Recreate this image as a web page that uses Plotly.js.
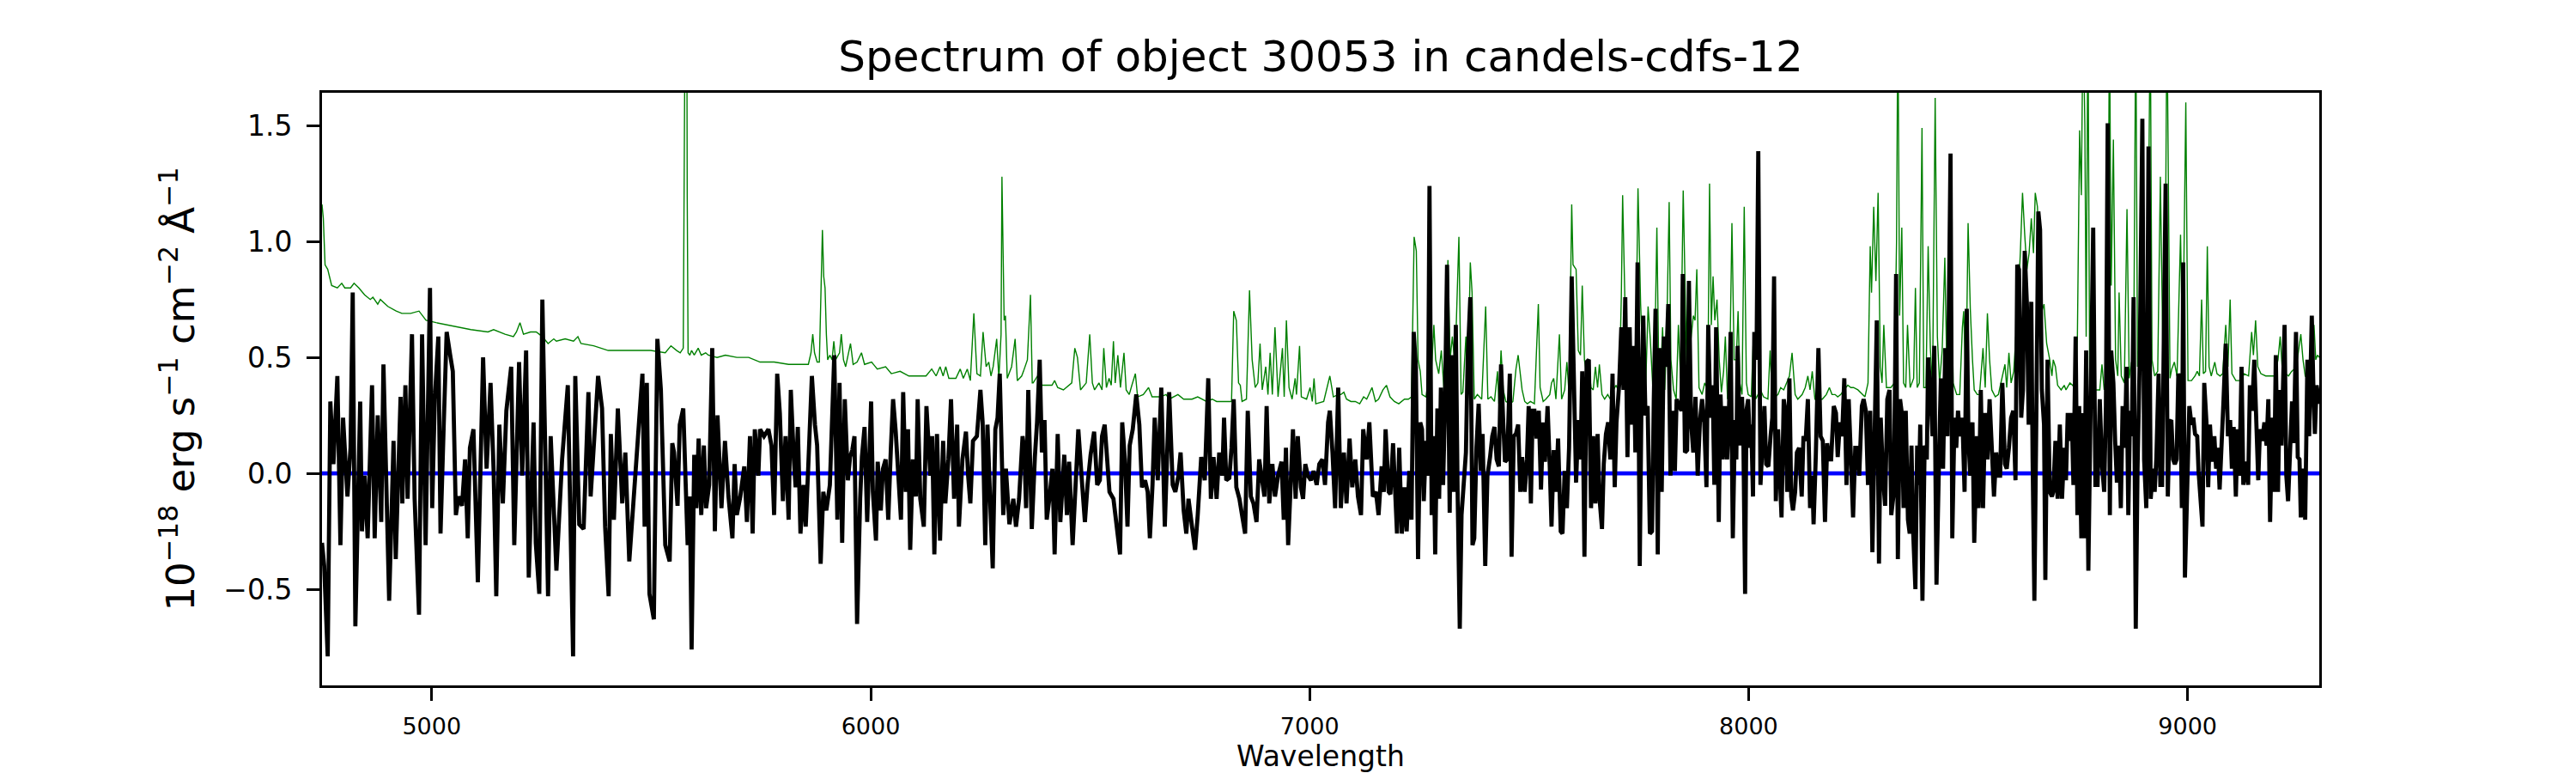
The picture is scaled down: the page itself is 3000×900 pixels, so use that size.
<!DOCTYPE html>
<html>
<head>
<meta charset="utf-8">
<script src="https://cdn.plot.ly/plotly-3.0.1.min.js"></script>
<style>
  html, body { margin: 0; padding: 0; background: #ffffff; }
  #spectrum { width: 3000px; height: 900px; }
</style>
</head>
<body>
<div id="spectrum"></div>
<script>
// Values: [wavelength (A), flux (1e-18 erg/s/cm2/A)]
const objectId = "30053";
const fieldName = "candels-cdfs-12";
const zeroLevel = 0;
const yTickVals = [-0.5, 0.0, 0.5, 1.0, 1.5];
const xTickVals = [5000, 6000, 7000, 8000, 9000];

// science spectrum (black)
const scienceBlue = [
  [4750,-0.30],[4755,-0.40],[4763,-0.79],[4769,0.31],[4776,0.04],[4785,0.42],[4792,-0.31],[4798,0.24],[4808,-0.10],[4815,0.11],
  [4820,0.78],[4826,-0.66],[4837,0.31],[4841,-0.25],[4847,-0.01],[4854,-0.28],[4864,0.38],[4870,-0.28],[4877,0.25],[4885,-0.21],
  [4890,0.47],[4896,-0.05],[4903,-0.55],[4913,0.14],[4918,-0.37],[4929,0.33],[4933,-0.13],[4940,0.38],[4945,-0.11],[4955,0.60],
  [4961,-0.11],[4971,-0.61],[4978,0.60],[4986,-0.31],[4996,0.80],[5001,-0.15],[5007,0.32],[5015,0.59],[5020,-0.26],[5027,0.19],
  [5034,0.61],[5042,0.51],[5048,0.44],[5055,-0.18],[5061,-0.10],[5069,-0.14],[5076,0.06],[5082,-0.28],[5087,0.11],[5095,0.19],
  [5105,-0.47],[5117,0.50],[5125,0.02],[5134,0.39],[5141,0.01],[5147,-0.53],[5154,0.21],[5162,-0.13],[5170,0.27],[5181,0.46],
  [5188,-0.31],[5199,0.48],[5206,-0.01],[5215,0.53],[5221,-0.45],[5232,0.22],[5237,-0.30],[5245,-0.52],[5252,0.75],[5265,-0.53],
  [5271,0.16],[5284,-0.42],[5297,0.06],[5310,0.38],[5322,-0.79],[5327,0.42],[5336,-0.22],[5346,-0.24],[5357,0.35],[5362,-0.10],
  [5379,0.42],[5388,0.28],[5395,-0.23],[5403,-0.53],[5408,0.17],[5415,-0.20],[5424,0.28],[5434,-0.13],[5441,0.09],[5450,-0.38],
  [5460,-0.12],[5470,0.11],[5480,0.43],[5485,-0.23],[5490,0.39],[5496,-0.52],[5506,-0.63],[5514,0.58],[5522,0.36],[5532,-0.31],
  [5542,-0.38],[5548,0.13]
];
const scienceVisible = [
  [5552,0.09],[5560,-0.14],[5565,0.21],[5573,0.28],[5578,-0.01],[5583,-0.31],[5588,-0.10],[5592,-0.76],[5598,0.08],[5603,-0.15],
  [5608,0.15],[5614,-0.18],[5620,0.12],[5625,-0.15],[5632,-0.05],[5639,0.54],[5645,-0.25],[5651,0.25],[5660,-0.15],[5668,0.14],
  [5676,-0.10],[5685,-0.28],[5690,0.04],[5695,-0.18],[5703,-0.10],[5712,0.03],[5718,-0.21],[5725,0.16],[5731,-0.26],[5736,0.19],
  [5744,-0.01],[5748,0.19],[5757,0.16],[5767,0.19],[5774,0.12],[5780,-0.18],[5787,0.43],[5793,0.26],[5800,-0.12],[5806,0.16],
  [5813,-0.20],[5818,0.36],[5825,0.06],[5829,-0.06],[5834,0.20],[5840,-0.26],[5847,-0.05],[5852,-0.23],[5858,0.04],[5866,0.42],
  [5873,0.21],[5878,0.12],[5886,-0.39],[5892,-0.08],[5899,-0.16],[5907,-0.05],[5917,0.51],[5924,-0.20],[5929,0.39],[5935,-0.30],
  [5941,0.32],[5948,-0.03],[5953,0.07],[5958,0.10],[5963,0.16],[5969,-0.65],[5976,-0.11],[5980,0.07],[5986,0.20],[5992,-0.21],
  [6001,0.31],[6005,-0.08],[6012,-0.29],[6016,0.05],[6023,-0.16],[6028,0.02],[6034,0.06],[6040,-0.20],[6046,0.11],[6051,0.32],
  [6057,0.18],[6064,-0.06],[6069,-0.20],[6074,0.35],[6080,-0.08],[6085,0.19],[6090,-0.33],[6096,0.06],[6103,-0.10],[6107,0.32],
  [6113,-0.11],[6121,-0.23],[6127,0.29],[6136,-0.01],[6140,0.16],[6145,-0.35],[6151,0.17],[6158,-0.29],[6165,0.14],[6170,-0.13],
  [6177,0.06],[6183,0.32],[6190,-0.11],[6197,0.21],[6201,-0.23],[6209,0.06],[6217,0.18],[6222,-0.01],[6227,-0.13],[6233,0.14],
  [6242,0.16],[6250,0.36],[6255,0.22],[6261,-0.31],[6266,0.21],[6272,-0.11],[6278,-0.41],[6284,0.19],[6289,0.24],[6294,0.43],
  [6302,-0.18],[6308,0.02],[6316,-0.22],[6325,-0.11],[6331,-0.23],[6338,-0.11],[6346,0.16],[6350,0.10],
  [6354,-0.15],[6359,0.36],[6367,-0.24],[6374,0.07],[6379,0.22],[6385,0.49],[6390,0.09],[6396,0.23],[6401,-0.20],[6407,-0.11],
  [6414,0.02],[6419,-0.35],[6426,0.17],[6432,-0.21],[6441,0.08],[6447,-0.18],[6452,0.05],[6460,-0.31],[6466,-0.06],[6473,0.19],
  [6481,-0.03],[6488,-0.21],[6494,-0.05],[6501,0.08],[6509,0.18],[6516,-0.05],[6522,-0.03],[6527,0.16],[6533,0.21],[6538,0.10],
  [6544,-0.08],[6553,-0.11],[6561,-0.23],[6568,-0.35],[6573,0.22],[6579,0.06],[6585,-0.23],[6590,0.12],[6597,0.19],[6605,0.34],
  [6612,0.21],[6618,-0.06],[6625,-0.03],[6631,-0.08],[6636,-0.28],[6642,-0.05],[6647,0.24],[6654,-0.03],[6662,0.37],[6670,-0.23],
  [6680,0.35],[6688,-0.05],[6694,-0.08],[6701,-0.01],[6706,0.09],[6713,-0.16],[6719,-0.26],[6724,-0.11],[6732,-0.23],[6739,-0.33],
  [6745,-0.18],[6753,0.07],[6761,-0.03],[6769,0.41],[6775,-0.11],[6781,0.07],[6788,-0.11],[6794,0.09],[6801,-0.01],[6805,0.24],
  [6810,-0.03],[6817,-0.02],[6822,0.11],[6827,0.32],[6833,-0.06],[6840,-0.11],[6846,-0.18],[6853,-0.26],[6859,0.27],[6866,-0.10],
  [6872,-0.13],[6879,-0.21],[6885,0.06],[6892,-0.05],[6897,-0.10],[6902,0.29],[6908,-0.13],[6915,0.04],[6921,-0.10],[6928,-0.01],
  [6936,0.05],[6941,-0.20],[6946,0.11],[6951,-0.31],[6957,-0.08],[6962,0.19],[6968,-0.11],[6973,0.16],[6980,-0.06],[6985,-0.11],
  [6990,0.04],[6996,-0.01],[7003,-0.03],[7009,0.01],[7016,-0.05],[7022,0.04],[7029,0.06],[7035,-0.05],[7042,0.22],[7046,0.27],
  [7052,0.09],[7058,-0.15],[7065,0.37],[7071,-0.15],[7078,0.09],[7084,-0.13],[7091,0.15],[7097,-0.06],[7104,0.06],[7110,-0.10],
  [7117,-0.18],[7122,0.19],[7130,0.06],[7136,0.22],[7144,-0.10],[7151,-0.08]
];
const scienceRed = [
  [7157,-0.18],[7164,0.03],[7169,-0.08],[7173,0.19],[7180,-0.08],[7184,-0.09],[7190,0.13],[7195,-0.16],[7199,-0.26],[7204,0.11],
  [7210,-0.26],[7216,-0.06],[7221,-0.25],[7227,0.01],[7232,-0.20],[7237,0.61],[7242,0.46],[7247,-0.37],[7252,0.22],[7256,0.19],
  [7260,-0.12],[7265,0.14],[7269,-0.01],[7273,1.24],[7278,-0.18],[7282,0.16],[7286,-0.35],[7291,0.28],[7295,-0.11],[7299,0.37],
  [7304,-0.05],[7308,0.27],[7313,0.90],[7319,-0.17],[7323,0.51],[7328,-0.08],[7333,0.64],[7337,-0.07],[7342,-0.67],[7346,-0.18],
  [7351,-0.05],[7356,0.09],[7360,0.49],[7366,0.76],[7371,-0.31],[7375,-0.28],[7380,0.11],[7385,0.30],[7390,0.01],[7394,0.17],
  [7400,-0.40],[7405,-0.01],[7411,0.07],[7416,0.16],[7421,0.20],[7426,0.06],[7431,0.03],[7436,0.47],[7441,0.22],[7445,0.05],
  [7450,0.06],[7456,0.43],[7460,-0.36],[7465,0.16],[7470,0.17],[7475,0.21],[7480,-0.08],[7484,0.07],[7490,-0.08],[7495,0.06],
  [7499,0.29],[7504,-0.13],[7508,0.27],[7512,0.27],[7517,0.15],[7522,0.27],[7527,-0.07],[7532,0.22],[7536,0.05],[7542,0.29],
  [7547,0.03],[7551,-0.23],[7556,0.10],[7561,-0.08],[7566,0.15],[7572,-0.25],[7576,-0.26],[7581,0.01],[7586,-0.15],[7591,0.11],
  [7597,0.85],[7602,0.27],[7607,-0.04],[7612,0.23],[7617,0.06],[7621,0.44],[7626,-0.36],[7631,0.48],[7636,0.49],[7641,-0.15],
  [7646,0.16],[7651,-0.13],[7656,0.17],[7660,-0.10],[7666,-0.24],[7670,0.04],[7675,0.17],[7680,0.22],[7685,0.06],[7690,0.43],
  [7695,-0.06],[7699,0.22],[7705,0.38],[7710,0.63],[7715,0.36],[7719,0.76],[7724,0.07],[7729,0.63],[7733,0.21],[7738,0.55],
  [7742,0.09],[7747,0.91],[7752,-0.40],[7756,0.32],[7760,0.68],[7765,0.25],[7770,0.29],[7775,-0.26],[7780,-0.25],[7784,0.32],
  [7788,0.71],[7793,-0.35],[7797,0.54],[7802,-0.08],[7807,0.59],[7812,0.46],[7817,0.73],[7822,-0.01],[7827,0.27],[7832,0.01],
  [7836,0.32],[7842,0.29],[7847,0.27],[7850,0.86],[7855,0.09],[7860,0.10],[7864,0.83],[7869,0.22],[7874,0.09],[7879,0.33],
  [7884,-0.01],[7889,0.22],[7894,0.32],[7899,0.22],[7904,-0.06],[7908,0.64],[7913,0.24],[7918,0.38],[7922,-0.05],[7926,0.63],
  [7932,-0.21],[7936,0.34],[7941,0.06],[7946,0.29],[7951,0.06],[7955,0.24],
  [7959,0.61],[7964,-0.28],[7969,0.23],[7972,0.06],[7975,0.55],[7980,0.12],[7985,0.33],[7988,0.16],[7992,-0.52],[7995,0.27],
  [7999,0.32],[8003,0.11],[8006,0.21],[8010,-0.10],[8013,0.61],[8018,0.49],[8022,1.39],[8027,-0.05],[8031,0.15],[8036,0.29],
  [8040,0.04],[8045,0.03],[8050,0.16],[8054,0.24],[8058,0.85],[8062,-0.12],[8067,0.19],[8071,-0.05],[8075,-0.19],[8080,0.32],
  [8084,0.27],[8088,-0.08],[8093,0.41],[8097,-0.10],[8101,-0.16],[8106,-0.08],[8110,0.09],[8115,0.11],[8121,-0.10],[8125,0.16],
  [8130,0.14],[8135,0.32],[8140,-0.15],[8145,-0.01],[8148,-0.22],[8153,0.07],[8159,0.54],[8164,0.16],[8169,0.14],[8174,-0.21],
  [8179,0.13],[8184,0.06],[8188,0.06],[8194,0.29],[8199,0.26],[8203,0.07],[8208,0.22],[8213,0.16],[8218,0.41],[8223,-0.05],
  [8228,0.32],[8233,0.07],[8238,-0.19],[8243,0.11],[8247,0.11],[8252,-0.01],[8258,0.29],[8262,0.32],[8267,0.27],[8272,-0.05],
  [8277,0.27],[8282,-0.34],[8286,-0.01],[8292,0.66],[8297,-0.39],[8301,0.24],[8306,-0.01],[8311,-0.14],[8316,0.32],[8321,0.36],
  [8325,-0.18],[8331,-0.08],[8336,0.86],[8340,-0.37],[8345,0.32],[8349,0.26],[8353,-0.15],[8358,0.27],[8363,-0.20],[8367,-0.26],
  [8371,0.12],[8375,-0.26],[8380,-0.50],[8384,0.12],[8388,-0.05],[8391,0.21],[8396,-0.55],[8401,0.12],[8406,0.06],[8409,0.50],
  [8414,0.36],[8419,0.16],[8423,0.55],[8428,-0.48],[8434,0.08],[8438,0.41],[8443,0.02],[8448,0.54],[8453,0.16],[8456,0.64],
  [8460,1.38],[8464,-0.28],[8469,0.24],[8473,0.11],[8477,0.27],[8482,0.16],[8487,0.24],[8492,-0.08],[8497,0.71],[8501,0.14],
  [8505,-0.01],[8510,0.22],[8514,-0.30],[8520,0.16],[8524,-0.15],[8529,0.36],[8534,-0.15],[8539,0.26],[8544,0.06],[8549,0.32],
  [8554,0.06],[8559,-0.10],[8564,0.09],[8569,-0.01],[8573,-0.01],[8578,0.39],[8584,0.04],[8588,0.02],[8593,0.11],[8598,0.24],
  [8603,0.27],[8608,-0.03],[8612,0.90],[8616,0.88],[8621,0.24],[8625,0.36],[8629,0.96],[8634,0.73],[8638,0.21],[8644,0.74],
  [8647,0.06],[8651,-0.55],[8655,0.16],[8660,1.13],[8664,1.05],[8668,0.36],[8673,0.21],[8676,-0.46],[8681,0.49],[8686,-0.08],
  [8691,-0.10],[8694,-0.08],[8699,0.14],[8704,-0.11],[8709,0.21],[8714,-0.11],[8719,0.11],[8723,-0.03],[8727,0.26],[8732,0.14],
  [8736,0.26],[8740,-0.05],[8745,0.59],[8749,-0.18],[8753,0.29],[8758,-0.28],
  [8761,0.26],[8764,-0.28],[8769,0.53],[8774,-0.42],[8779,0.27],[8785,1.06],[8790,-0.05],[8795,-0.05],[8800,0.32],[8805,0.04],
  [8810,-0.08],[8814,0.29],[8818,1.51],[8823,-0.18],[8826,0.53],[8831,0.39],[8835,0.14],[8839,-0.04],[8844,0.12],[8848,-0.15],
  [8852,0.29],[8857,0.11],[8861,0.46],[8865,-0.18],[8869,0.27],[8873,0.16],[8877,0.76],[8882,-0.67],[8886,0.02],[8891,0.49],
  [8897,1.53],[8901,0.06],[8906,-0.15],[8911,1.41],[8916,-0.11],[8921,0.02],[8925,-0.08],[8929,0.07],[8934,0.43],[8938,-0.05],
  [8942,-0.05],[8946,0.64],[8950,1.25],[8955,-0.10],[8959,0.22],[8963,0.23],[8967,0.06],[8971,0.04],[8975,0.06],[8979,0.43],
  [8983,0.39],[8987,-0.15],[8990,0.91],[8994,-0.45],[8999,-0.01],[9004,0.29],[9009,0.21],[9013,0.24],[9017,0.17],[9022,0.16],
  [9025,0.01],[9030,-0.10],[9034,-0.23],[9038,0.39],[9043,0.22],[9047,-0.06],[9051,0.21],[9056,0.05],[9061,0.16],[9065,0.02],
  [9069,0.11],[9073,-0.07],[9077,0.16],[9082,0.32],[9087,0.56],[9092,0.16],[9097,0.23],[9101,0.02],[9105,0.20],[9110,-0.10],
  [9114,0.19],[9118,-0.01],[9123,0.46],[9127,-0.05],[9133,0.05],[9138,-0.05],[9142,0.38],[9147,0.27],[9152,0.49],[9157,0.22],
  [9161,-0.03],[9165,0.19],[9170,0.14],[9175,0.22],[9180,0.12],[9184,0.32],[9188,-0.21],[9193,0.24],[9197,-0.08],[9201,0.51],
  [9206,-0.08],[9210,0.36],[9214,0.12],[9221,0.64],[9225,-0.01],[9229,-0.12],[9234,0.13],[9238,0.31],[9242,0.13],[9247,0.61],
  [9251,0.07],[9255,0.06],[9258,-0.19],[9263,0.02],[9268,-0.20],[9273,0.49],[9277,0.16],[9283,0.68],[9287,0.34],[9290,0.17],
  [9294,0.38],[9300,0.30]
];

// noise / sky spectrum (green); 2.0 and 3.0 mark lines that leave the top of the plot
const noiseBlue = [
  [4750,1.16],[4753,1.10],[4757,0.90],[4763,0.88],[4772,0.81],[4785,0.80],[4795,0.82],[4802,0.80],[4815,0.80],[4823,0.82],
  [4834,0.80],[4847,0.77],[4860,0.75],[4866,0.76],[4877,0.73],[4883,0.75],[4900,0.72],[4919,0.70],[4932,0.69],[4952,0.69],
  [4971,0.70],[4987,0.66],[5010,0.65],[5036,0.64],[5062,0.63],[5089,0.62],[5128,0.61],[5141,0.62],[5167,0.60],[5186,0.59],
  [5193,0.61],[5201,0.65],[5209,0.60],[5225,0.61],[5238,0.61],[5252,0.59],[5265,0.56],[5278,0.58],[5284,0.57],[5304,0.58],
  [5323,0.57],[5333,0.59],[5340,0.56],[5369,0.55],[5402,0.53],[5434,0.53],[5467,0.53],[5499,0.53],[5532,0.52],[5545,0.55],
  [5558,0.53],[5566,0.52],[5573,0.54],[5576,1.6],[5577,3.0],[5580,3.0],[5582,1.2],[5584,0.52],[5588,0.51],[5592,0.53],
  [5598,0.51],[5607,0.54],[5614,0.51],[5624,0.52],[5630,0.51],[5650,0.50],[5669,0.51],[5695,0.50],[5722,0.50],[5748,0.48],
  [5780,0.48],[5813,0.47],[5839,0.47],[5858,0.47],[5864,0.52],[5868,0.60],[5872,0.52],[5878,0.48],[5883,0.48],[5888,0.86],
  [5890,1.05],[5893,0.85],[5896,0.80],[5899,0.60],[5902,0.49],[5907,0.51],[5912,0.49],[5916,0.57],[5920,0.49],[5929,0.52],
  [5933,0.60],[5938,0.49],[5943,0.46],[5954,0.56],[5960,0.47],[5969,0.48],[5979,0.52],[5986,0.47],[6002,0.48],[6015,0.45],
  [6034,0.46],[6047,0.43],[6067,0.44],[6087,0.42],[6106,0.42],[6126,0.42],[6139,0.45],[6149,0.42],[6158,0.46],[6165,0.42],
  [6171,0.46],[6178,0.41],[6194,0.41],[6204,0.45],[6211,0.41],[6220,0.45],[6227,0.40],[6235,0.69],[6242,0.43],[6250,0.42],
  [6256,0.61],[6263,0.46],[6269,0.48],[6274,0.42],[6279,0.46],[6287,0.58],[6292,0.41],[6297,0.60],[6299,1.28],[6302,0.90],
  [6304,0.66],[6307,0.68],[6311,0.41],[6321,0.46],[6329,0.58],[6334,0.40],[6344,0.42],[6348,0.44],[6357,0.49],[6364,0.77],
  [6368,0.39]
];
const noiseVisible = [
  [6370,0.39],[6380,0.42],[6390,0.38],[6400,0.38],[6413,0.38],[6419,0.40],[6426,0.37],[6439,0.36],[6452,0.38],[6458,0.39],
  [6465,0.54],[6471,0.50],[6478,0.36],[6491,0.39],[6499,0.60],[6505,0.39],[6510,0.36],[6520,0.39],[6527,0.36],[6531,0.54],
  [6537,0.37],[6543,0.41],[6548,0.38],[6553,0.57],[6557,0.39],[6563,0.51],[6569,0.37],[6577,0.52],[6582,0.36],[6589,0.34],
  [6595,0.38],[6603,0.43],[6608,0.33],[6621,0.34],[6633,0.37],[6641,0.33],[6660,0.33],[6673,0.34],[6680,0.32],[6700,0.34],
  [6713,0.32],[6732,0.32],[6745,0.33],[6765,0.31],[6778,0.32],[6788,0.31],[6810,0.31],[6822,0.31],[6827,0.70],[6833,0.66],
  [6838,0.39],[6842,0.38],[6846,0.31],[6856,0.32],[6863,0.79],[6869,0.49],[6876,0.37],[6882,0.39],[6887,0.56],[6892,0.36],
  [6900,0.46],[6905,0.34],[6910,0.52],[6915,0.34],[6921,0.63],[6928,0.33],[6938,0.54],[6942,0.33],[6947,0.66],[6953,0.37],
  [6960,0.32],[6967,0.41],[6970,0.34],[6977,0.55],[6981,0.33],[6993,0.32],[7001,0.37],[7006,0.31],[7010,0.41],[7014,0.30],
  [7032,0.31],[7046,0.42],[7054,0.33],[7065,0.34],[7071,0.34],[7078,0.35],[7084,0.32],[7094,0.31],[7104,0.31],[7114,0.30],
  [7123,0.33],[7130,0.32],[7142,0.37],[7150,0.31],[7157,0.32],[7167,0.36],[7175,0.38],[7183,0.33],[7193,0.31],[7203,0.30],
  [7216,0.32],[7225,0.32],[7232,0.33],[7238,1.02],[7243,0.96],[7247,0.49],[7252,0.44],[7256,0.34],[7265,0.33],[7271,0.41],
  [7278,0.46],[7283,0.64],[7287,0.49],[7294,0.43],[7300,0.53],[7306,0.36],[7310,0.49],[7315,0.92],[7320,0.49],[7325,0.59],
  [7330,0.49],[7334,0.64],[7340,1.02],[7345,0.34],[7349,0.35],[7356,0.59],[7360,0.36],[7366,0.91],[7370,0.78],[7375,0.32],
  [7382,0.34],[7392,0.32],[7401,0.72],[7406,0.32],[7413,0.33],[7421,0.31],[7428,0.44],[7431,0.30],[7436,0.53],[7441,0.36],
  [7447,0.31],[7457,0.30],[7463,0.31],[7470,0.45],[7475,0.51],[7480,0.42],[7484,0.36],[7490,0.31],[7496,0.30],[7503,0.31],
  [7512,0.30],[7521,0.73],[7525,0.37],[7532,0.31],[7538,0.32],[7547,0.34],[7551,0.39],[7556,0.41],[7561,0.32],[7569,0.60],
  [7574,0.32],[7581,0.36],[7586,0.48],[7591,0.34],[7597,1.16],[7600,0.90],[7607,0.88],[7612,0.53],[7617,0.51],[7621,0.81],
  [7626,0.49],[7632,0.41],[7636,0.46],[7641,0.37],[7646,0.36],[7651,0.46],[7656,0.37],[7660,0.47],[7666,0.34],[7672,0.32],
  [7679,0.34],[7685,0.32],[7692,0.36],[7698,0.38],[7705,0.35],[7710,0.76],[7713,1.20],[7718,0.76],[7723,0.39],[7729,0.57],
  [7734,0.49],[7739,0.36],[7744,0.66],[7748,1.23],[7754,0.73],[7758,0.53],[7765,0.34],[7771,0.72],[7776,0.58],[7782,0.36],
  [7786,0.49],[7791,1.06],[7795,0.49],[7799,0.39],[7804,0.63],[7809,0.36],[7814,0.66],[7819,1.17],[7823,0.49],[7829,0.36],
  [7835,0.32],[7840,0.64],[7845,0.41],[7851,1.22],[7855,0.76],[7860,0.35],[7866,0.53],[7874,0.68],[7878,0.66],[7882,0.88],
  [7887,0.37],[7894,0.34],[7900,0.39],[7907,0.36],[7911,1.25],[7915,0.64],[7919,0.85],[7923,0.66],[7928,0.75],[7933,0.49],
  [7938,0.35],[7943,0.44],[7947,0.59],[7952,0.32],[7957,0.45],[7962,1.08]
];
const noiseRed = [
  [7967,0.49],[7972,0.49],[7976,0.70],[7980,0.39],[7985,0.34],[7990,1.15],[7995,0.39],[7999,0.34],[8006,0.33],[8011,0.59],
  [8016,0.32],[8021,0.34],[8027,0.36],[8034,0.33],[8044,0.32],[8049,0.53],[8054,0.32],[8067,0.34],[8073,0.37],[8080,0.36],
  [8086,0.39],[8093,0.42],[8099,0.52],[8106,0.34],[8112,0.32],[8122,0.34],[8129,0.37],[8135,0.42],[8140,0.36],[8145,0.44],
  [8151,0.32],[8158,0.32],[8168,0.32],[8177,0.34],[8184,0.37],[8190,0.34],[8197,0.34],[8203,0.33],[8210,0.34],[8217,0.36],
  [8226,0.38],[8233,0.37],[8239,0.37],[8249,0.36],[8259,0.34],[8265,0.33],[8272,0.39],[8277,0.98],[8280,0.78],[8285,1.15],
  [8290,0.83],[8295,1.21],[8300,0.46],[8304,0.39],[8308,0.64],[8314,0.37],[8324,0.37],[8332,0.39],[8337,1.00],[8340,2.0],
  [8344,0.68],[8349,1.06],[8353,0.39],[8358,0.37],[8362,0.64],[8368,0.37],[8376,0.41],[8380,0.80],[8384,0.37],[8389,0.39],
  [8395,1.49],[8399,0.37],[8404,0.37],[8409,0.98],[8414,0.54],[8419,0.37],[8425,1.62],[8430,0.59],[8435,0.39],[8441,0.53],
  [8447,0.93],[8451,0.51],[8458,0.64],[8461,0.95],[8466,0.39],[8474,0.34],[8481,0.34],[8487,0.63],[8490,0.70],[8495,0.36],
  [8500,1.08],[8505,0.71],[8510,0.49],[8514,0.36],[8521,0.34],[8526,0.34],[8534,0.54],[8539,0.37],[8544,0.69],[8549,0.49],
  [8554,0.36],[8562,0.33],[8569,0.34],[8575,0.39],[8584,0.47],[8588,0.37],[8593,0.52],[8598,0.39],[8604,0.44],[8610,0.63],
  [8614,0.75],[8619,0.95],[8624,1.21],[8629,1.03],[8634,0.88],[8639,0.95],[8644,1.10],[8649,0.95],[8653,1.21],[8658,1.15],
  [8663,0.88],[8668,0.70],[8673,0.73],[8679,0.56],[8686,0.49],[8691,0.42],[8694,0.49],[8699,0.46],[8704,0.38],[8712,0.36],
  [8719,0.38],[8723,0.36],[8732,0.39],[8738,0.38],[8745,0.36],[8749,0.59],[8754,1.48],[8758,1.20],[8762,2.0],[8766,1.50],
  [8769,0.59],[8773,2.0],[8777,0.39],[8787,0.36],[8794,0.36],[8800,0.36],[8805,0.47],[8810,0.36],[8818,0.46],[8822,2.0],
  [8826,0.81],[8831,1.44],[8836,0.49],[8841,0.42],[8844,0.78],[8849,0.42],[8856,0.39],[8862,1.14],[8867,0.41],[8872,0.48],
  [8877,0.42],[8882,2.0],[8886,0.46],[8891,0.59],[8897,0.49],[8901,0.51],[8908,0.46],[8915,2.0],[8919,0.49],[8925,0.42],
  [8932,0.44],[8938,1.28],[8944,0.49],[8948,0.49],[8953,2.0],[8957,0.86],[8960,0.41],[8964,0.45],[8970,0.48],[8976,0.42],
  [8984,1.03],[8989,0.49],[8996,1.60],[9001,0.40],[9009,0.40],[9017,0.42],[9022,0.44],[9027,0.42],[9032,0.75],[9036,0.43],
  [9041,0.44],[9045,0.98],[9049,0.46],[9054,0.42],[9062,0.48],[9067,0.43],[9074,0.42],[9080,0.43],[9087,0.64],[9092,0.46],
  [9097,0.75],[9101,0.43],[9110,0.40],[9120,0.40],[9129,0.43],[9139,0.42],[9146,0.61],[9150,0.51],[9155,0.66],[9160,0.46],
  [9167,0.43],[9178,0.42],[9188,0.42],[9198,0.42],[9206,0.49],[9211,0.59],[9216,0.44],[9224,0.43],[9230,0.42],[9237,0.44],
  [9243,0.45],[9250,0.49],[9258,0.60],[9263,0.49],[9268,0.42],[9276,0.43],[9283,0.42],[9288,0.64],[9292,0.49],[9296,0.51],
  [9300,0.50]
];

const science = scienceBlue.concat(scienceVisible, scienceRed);
const noise = noiseBlue.concat(noiseVisible, noiseRed);
const waveMin = science[0][0];
const waveMax = science[science.length - 1][0];

const font = "DejaVu Sans, Verdana, sans-serif";

const traceNoise = {
    x: noise.map(p => p[0]),
    y: noise.map(p => p[1]),
    type: "scatter",
    mode: "lines",
    line: { color: "#008000", width: 1.4 },
    hoverinfo: "skip"
};

// zero level drawn under the science spectrum
const traceZero = {
    x: [waveMin, waveMax],
    y: [zeroLevel, zeroLevel],
    type: "scatter",
    mode: "lines",
    line: { color: "#0000ff", width: 4.6 },
    hoverinfo: "skip"
};

const traceScience = {
    x: science.map(p => p[0]),
    y: science.map(p => p[1]),
    type: "scatter",
    mode: "lines",
    line: { color: "#000000", width: 4.8 },
    hoverinfo: "skip"
};

const axisCommon = {
    showgrid: false,
    zeroline: false,
    showline: true,
    mirror: true,
    linecolor: "#000000",
    linewidth: 3,
    ticks: "outside",
    ticklen: 15,
    tickwidth: 3,
    tickcolor: "#000000"
};

const layout = {
    width: 3000,
    height: 900,
    margin: { l: 375, r: 299, t: 108, b: 102 },
    paper_bgcolor: "#ffffff",
    plot_bgcolor: "#ffffff",
    showlegend: false,
    font: { family: font, color: "#000000" },
    title: {
        text: "Spectrum of object " + objectId + " in " + fieldName,
        font: { family: font, size: 50, color: "#000000" },
        x: 0.5, xref: "paper", xanchor: "center",
        y: 1 - 65 / 900, yref: "container", yanchor: "middle"
    },
    xaxis: Object.assign({}, axisCommon, {
        range: [4750, 9300],
        tickvals: xTickVals,
        tickformat: "d",
        tickfont: { family: font, size: 27 },
        ticklabelstandoff: 7,
        title: { text: "Wavelength", font: { family: font, size: 33 }, standoff: 5 }
    }),
    yaxis: Object.assign({}, axisCommon, {
        range: [-0.915, 1.642],
        tickvals: yTickVals,
        tickformat: ".1f",
        tickfont: { family: font, size: 33 },
        ticklabelstandoff: 10,
        title: {
            text: "10<sup>\u221218</sup> erg s<sup>\u22121</sup> cm<sup>\u22122</sup> \u00c5<sup>\u22121</sup>",
            font: { family: font, size: 45 },
            standoff: 20
        }
    })
};

Plotly.newPlot("spectrum", [traceNoise, traceZero, traceScience], layout, { displayModeBar: false, staticPlot: true });
</script>
</body>
</html>
